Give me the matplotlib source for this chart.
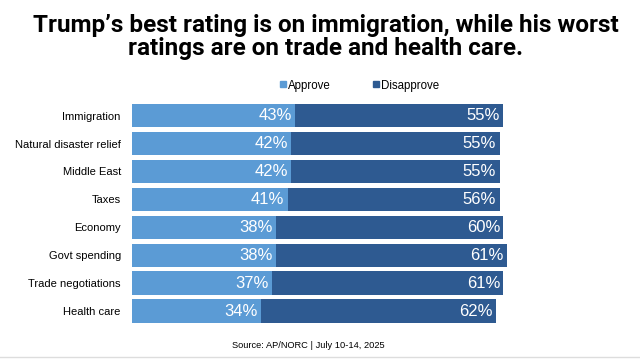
import matplotlib
matplotlib.use('Agg')
import matplotlib.pyplot as plt
from matplotlib.lines import Line2D
import numpy as np

# data
categories = ['Immigration', 'Natural disaster relief', 'Middle East', 'Taxes',
              'Economy', 'Govt spending', 'Trade negotiations', 'Health care']
approve = [43, 42, 42, 41, 38, 38, 37, 34]
disapprove = [55, 55, 55, 56, 60, 61, 61, 62]

title = "Trump\u2019s best rating is on immigration, while his worst\nratings are on trade and health care."
source = "Source: AP/NORC | July 10-14, 2025"

c_app = '#5b9bd5'
c_dis = '#2e5a91'

plt.rcParams['font.family'] = ['Liberation Sans', 'DejaVu Sans']

fig = plt.figure(figsize=(6.4, 3.6), dpi=100)
ax = fig.add_axes([132.3 / 640, 1 - 325 / 360, 500 / 640, 223.3 / 360])

y = np.arange(len(categories))
ax.barh(y, approve, height=0.835, color=c_app, label='Approve')
ax.barh(y, disapprove, left=approve, height=0.835, color=c_dis, label='Disapprove')

for yi, a, d in zip(y, approve, disapprove):
    ax.text(a - 0.9, yi, f'{a}%', color='white', fontsize=12, ha='right', va='center')
    ax.text(a + d - 0.9, yi, f'{d}%', color='white', fontsize=12, ha='right', va='center')

ax.set_xlim(0, 500 / 3.787)
ax.set_ylim(len(categories) - 0.5, -0.5)
ax.set_yticks(y)
ax.set_yticklabels(categories, fontsize=8)
ax.tick_params(axis='y', length=0, pad=8.3)
ax.set_xticks([])
for s in ax.spines.values():
    s.set_visible(False)

handles = [Line2D([], [], marker='s', color=c_app, linestyle='', markersize=4.5),
           Line2D([], [], marker='s', color=c_dis, linestyle='', markersize=4.5)]
fig.legend(handles, ['Approve', 'Disapprove'], loc='center', bbox_to_anchor=(359 / 640, 1 - 85.5 / 360),
           ncol=2, frameon=False, fontsize=8.3, handlelength=0.6, handletextpad=0.15,
           columnspacing=3.6, borderpad=0)

fig.text(326 / 640, 1 - 31.7 / 360, title.split('\n')[0], family='Roboto', weight='bold',
         fontsize=17.5, ha='center', va='baseline')
fig.text(326 / 640, 1 - 55 / 360, title.split('\n')[1], family='Roboto', weight='bold',
         fontsize=17.5, ha='center', va='baseline')

fig.text(308.7 / 640, 1 - 345 / 360, source, fontsize=6.7, ha='center', va='center')
fig.add_artist(Line2D([0, 1], [1 - 356.5 / 360] * 2, color='#dddddd', lw=1))

fig.savefig('out.png', dpi=100)
